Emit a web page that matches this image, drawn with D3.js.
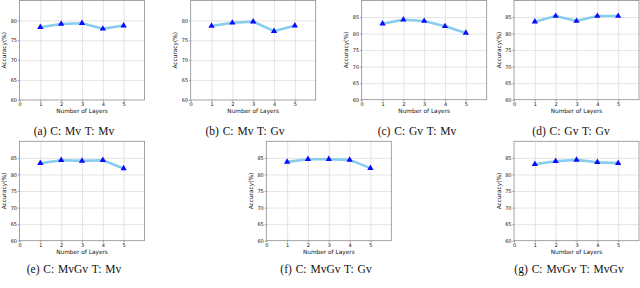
<!DOCTYPE html>
<html>
<head>
<meta charset="utf-8">
<script src="https://cdn.jsdelivr.net/npm/d3@7"></script>
<style>
  html, body { margin: 0; padding: 0; background: #fff; }
  svg { display: block; }
  .tick text { font-family: "DejaVu Sans", sans-serif; font-size: 5px; fill: #111; }
  .axis-label { font-family: "DejaVu Sans", sans-serif; font-size: 5.8px; fill: #111; }
  .caption { font-family: "Liberation Serif", serif; font-size: 11.5px; fill: #111; word-spacing: 1px; }
</style>
</head>
<body>
<div id="chart"></div>
<script>
// Layer-count sweep: accuracy per number of layers, one panel per setting.
const layers = [1, 2, 3, 4, 5];
const xTicks = [0, 1, 2, 3, 4, 5];

const accMvMv = [78.3, 79.1, 79.3, 77.9, 78.7];
const accMvGv = [78.6, 79.4, 79.7, 77.3, 78.7];
const accGvMv = [83.0, 84.2, 83.8, 82.2, 80.2];
const accGvGv = [83.6, 85.3, 83.8, 85.3, 85.3];
const accMvGvMv = [83.4, 84.3, 84.1, 84.3, 81.8];
const accMvGvGv = [83.8, 84.6, 84.6, 84.4, 81.9];
const accMvGvMvGv = [83.1, 84.0, 84.4, 83.7, 83.4];

const yTicksLow = [60, 65, 70, 75, 80];
const yTicksHigh = [60, 65, 70, 75, 80, 85];

const captions = [
  '(a) C: Mv T: Mv',
  '(b) C: Mv T: Gv',
  '(c) C: Gv T: Mv',
  '(d) C: Gv T: Gv',
  '(e) C: MvGv T: Mv',
  '(f) C: MvGv T: Gv',
  '(g) C: MvGv T: MvGv'
];

const panels = [
  { values: accMvMv, yMax: 85, yTicks: yTicksLow, left: 19.5, top: 0.5, bottom: 100, captionX: 74, captionY: 135 },
  { values: accMvGv, yMax: 85, yTicks: yTicksLow, left: 190.7, top: 0.5, bottom: 100, captionX: 245, captionY: 135 },
  { values: accGvMv, yMax: 90, yTicks: yTicksHigh, left: 361.7, top: 0.5, bottom: 99.7, captionX: 417, captionY: 135 },
  { values: accGvGv, yMax: 90, yTicks: yTicksHigh, left: 514, top: 0.5, bottom: 99.7, captionX: 571, captionY: 135 },
  { values: accMvGvMv, yMax: 90, yTicks: yTicksHigh, left: 19.5, top: 141.3, bottom: 240.7, captionX: 74, captionY: 273 },
  { values: accMvGvGv, yMax: 90, yTicks: yTicksHigh, left: 266.3, top: 141.3, bottom: 240.7, captionX: 326, captionY: 273 },
  { values: accMvGvMvGv, yMax: 90, yTicks: yTicksHigh, left: 514, top: 141.3, bottom: 240.7, captionX: 569, captionY: 273 }
];

const plotWidth = 125;
const LINE = '#86cdef';
const MARKER = '#0a0aff';
const GRID = '#dedede';
const SPINE = '#8c8c8c';

const svg = d3.select('#chart')
  .append('svg')
  .attr('width', 640)
  .attr('height', 288);

panels.forEach((p, i) => {
  const height = p.bottom - p.top;
  const x = d3.scaleLinear().domain([0, 6]).range([0, plotWidth]);
  const y = d3.scaleLinear().domain([60, p.yMax]).range([height, 0]);

  const g = svg.append('g').attr('transform', `translate(${p.left},${p.top})`);

  // gridlines
  g.append('g')
    .call(d3.axisBottom(x).tickValues(xTicks.slice(1)).tickSize(height).tickFormat(''))
    .call((a) => a.select('.domain').remove())
    .selectAll('line')
    .attr('stroke', GRID)
    .attr('stroke-width', 0.8);

  g.append('g')
    .call(d3.axisLeft(y).tickValues(p.yTicks.slice(1)).tickSize(-plotWidth).tickFormat(''))
    .call((a) => a.select('.domain').remove())
    .selectAll('line')
    .attr('stroke', GRID)
    .attr('stroke-width', 0.8);

  // axes
  g.append('g')
    .attr('transform', `translate(0,${height})`)
    .call(d3.axisBottom(x).tickValues(xTicks).tickFormat(d3.format('d')).tickSize(1.5).tickPadding(1))
    .call((a) => a.select('.domain').remove())
    .selectAll('line')
    .attr('stroke', '#333')
    .attr('stroke-width', 0.5);

  g.append('g')
    .call(d3.axisLeft(y).tickValues(p.yTicks).tickFormat(d3.format('d')).tickSize(1.5).tickPadding(1))
    .call((a) => a.select('.domain').remove())
    .selectAll('line')
    .attr('stroke', '#333')
    .attr('stroke-width', 0.5);

  g.selectAll('.tick text').attr('font-size', null);

  // frame
  g.append('rect')
    .attr('width', plotWidth)
    .attr('height', height)
    .attr('fill', 'none')
    .attr('stroke', SPINE)
    .attr('stroke-width', 0.8);

  const pts = layers.map((l, k) => ({ layer: l, acc: p.values[k] }));

  g.append('path')
    .datum(pts)
    .attr('fill', 'none')
    .attr('stroke', LINE)
    .attr('stroke-width', 2.6)
    .attr('stroke-linejoin', 'round')
    .attr('d', d3.line().x((d) => x(d.layer)).y((d) => y(d.acc)));

  g.selectAll('path.marker')
    .data(pts)
    .join('path')
    .attr('class', 'marker')
    .attr('transform', (d) => `translate(${x(d.layer)},${y(d.acc)})`)
    .attr('d', d3.symbol().type(d3.symbolTriangle).size(17))
    .attr('fill', MARKER);

  g.append('text')
    .attr('class', 'axis-label')
    .attr('x', plotWidth / 2)
    .attr('y', height + 13)
    .attr('text-anchor', 'middle')
    .text('Number of Layers');

  g.append('text')
    .attr('class', 'axis-label')
    .attr('transform', `translate(-13.5,${height / 2}) rotate(-90)`)
    .attr('text-anchor', 'middle')
    .text('Accuracy(%)');

  svg.append('text')
    .attr('class', 'caption')
    .attr('x', p.captionX)
    .attr('y', p.captionY)
    .attr('text-anchor', 'middle')
    .text(captions[i]);
});
</script>
</body>
</html>
